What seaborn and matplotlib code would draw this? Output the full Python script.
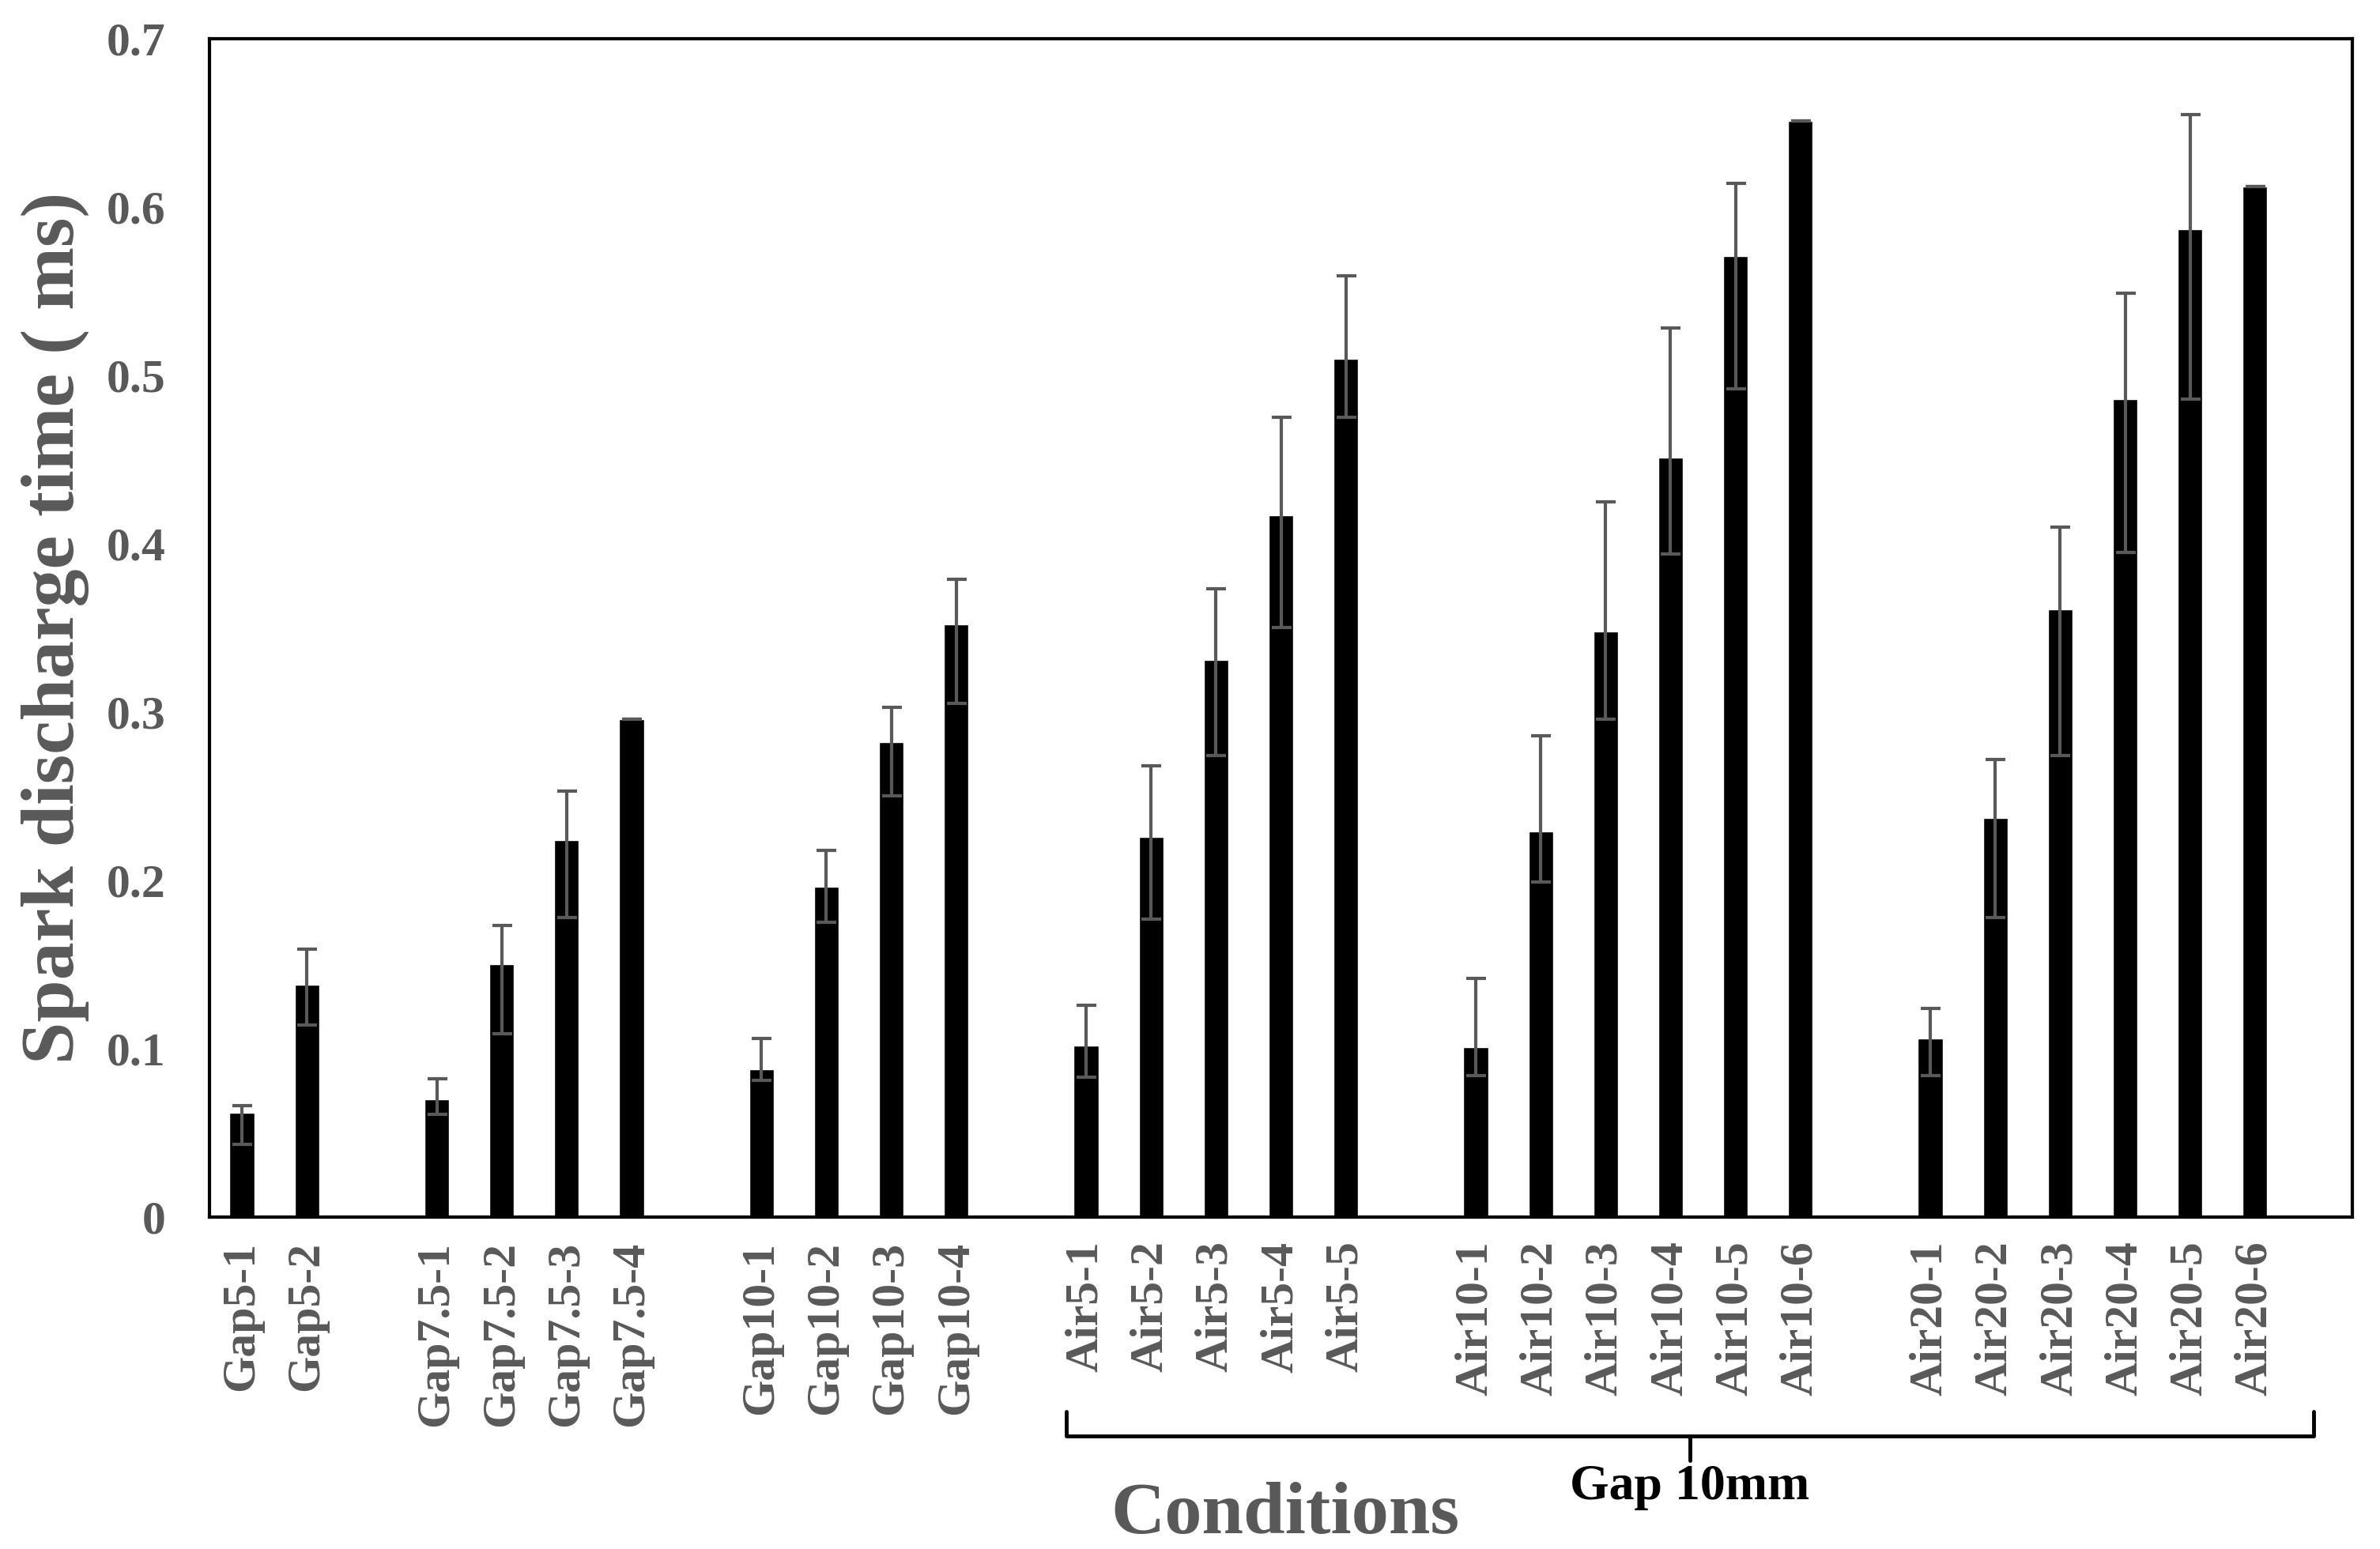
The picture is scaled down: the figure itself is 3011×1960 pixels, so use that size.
import numpy as np
import pandas as pd
import matplotlib
matplotlib.use("Agg")
import matplotlib.pyplot as plt
import matplotlib.transforms as mtransforms
import seaborn as sns

# bar labels, grouped by test series (a blank slot sits between groups)
labels = [
    "Gap5-1", "Gap5-2",
    "Gap7.5-1", "Gap7.5-2", "Gap7.5-3", "Gap7.5-4",
    "Gap10-1", "Gap10-2", "Gap10-3", "Gap10-4",
    "Air5-1", "Air5-2", "Air5-3", "Air5-4", "Air5-5",
    "Air10-1", "Air10-2", "Air10-3", "Air10-4", "Air10-5", "Air10-6",
    "Air20-1", "Air20-2", "Air20-3", "Air20-4", "Air20-5", "Air20-6",
]
groups = [
    "Gap5", "Gap5",
    "Gap7.5", "Gap7.5", "Gap7.5", "Gap7.5",
    "Gap10", "Gap10", "Gap10", "Gap10",
    "Air5", "Air5", "Air5", "Air5", "Air5",
    "Air10", "Air10", "Air10", "Air10", "Air10", "Air10",
    "Air20", "Air20", "Air20", "Air20", "Air20", "Air20",
]

# mean spark discharge time (ms)
mean_ms = [
    0.062, 0.138,
    0.070, 0.150, 0.224, 0.296,
    0.088, 0.196, 0.282, 0.352,
    0.102, 0.226, 0.331, 0.417, 0.510,
    0.101, 0.229, 0.348, 0.451, 0.571, 0.651,
    0.106, 0.237, 0.361, 0.486, 0.587, 0.612,
]
# upper / lower end of the error bars (ms)
upper_ms = [
    0.066, 0.159,
    0.082, 0.173, 0.253, 0.296,
    0.106, 0.218, 0.303, 0.379,
    0.126, 0.268, 0.373, 0.475, 0.559,
    0.142, 0.286, 0.425, 0.528, 0.614, 0.651,
    0.124, 0.272, 0.410, 0.549, 0.655, 0.612,
]
lower_ms = [
    0.043, 0.114,
    0.061, 0.109, 0.178, 0.296,
    0.081, 0.175, 0.250, 0.305,
    0.083, 0.177, 0.274, 0.350, 0.475,
    0.084, 0.199, 0.296, 0.394, 0.492, 0.651,
    0.084, 0.178, 0.274, 0.395, 0.486, 0.612,
]

yticks = [0, 0.1, 0.2, 0.3, 0.4, 0.5, 0.6, 0.7]
ytick_labels = ["0", "0.1", "0.2", "0.3", "0.4", "0.5", "0.6", "0.7"]

GRAY = "#595959"

# slot positions: skip one slot each time the group changes
pos = []
slot = 0
for i, g in enumerate(groups):
    if i > 0 and g != groups[i - 1]:
        slot += 1
    pos.append(slot)
    slot += 1

df = pd.DataFrame({"pos": pos, "label": labels, "mean": mean_ms,
                   "upper": upper_ms, "lower": lower_ms})

sns.set_theme(style="white")
plt.rcParams["font.family"] = ["Liberation Serif", "DejaVu Serif"]

fig = plt.figure(figsize=(30.11, 19.6), dpi=100)
ax = fig.add_axes([0.088, 0.2143, 0.9004, 0.7607])

sns.barplot(data=df, x="pos", y="mean", native_scale=True, color="black",
            saturation=1, width=0.38, errorbar=None, ax=ax)

yerr = np.vstack([df["mean"] - df["lower"], df["upper"] - df["mean"]])
ax.errorbar(df["pos"], df["mean"], yerr=yerr, fmt="none", ecolor=GRAY,
            elinewidth=3, capsize=9, capthick=3, zorder=3)

ax.set_xlim(-0.5, slot - 0.5 + 1)
ax.set_ylim(0, 0.7)
ax.set_yticks(yticks)
ax.set_yticklabels(ytick_labels)
ax.set_xticks(df["pos"])
ax.set_xticklabels(df["label"], rotation=90)
ax.tick_params(axis="both", length=0, labelsize=43, labelcolor=GRAY)
ax.tick_params(axis="y", pad=40)
ax.tick_params(axis="x", pad=22)
for lab in ax.get_xticklabels() + ax.get_yticklabels():
    lab.set_fontweight("bold")

for sp in ax.spines.values():
    sp.set_visible(True)
    sp.set_color("black")
    sp.set_linewidth(3)

ax.set_ylabel("Spark discharge time ( ms)", fontsize=69, fontweight="bold", color=GRAY)
ax.yaxis.set_label_coords(-0.056, 0.5)
ax.set_xlabel("Conditions", fontsize=68, fontweight="bold", color=GRAY)
ax.xaxis.set_label_coords(0.502, -0.225)

# bracket under the Air series (all at 10 mm gap)
air_pos = df.loc[df["label"].str.startswith("Air"), "pos"]
x0 = air_pos.min() - 0.3
x1 = air_pos.max() + 0.9
xm = (x0 + x1) / 2
trans = mtransforms.blended_transform_factory(ax.transData, fig.transFigure)
ax.plot([x0, x0, x1, x1], [0.089, 0.073, 0.073, 0.089], color="black",
        lw=3.5, transform=trans, clip_on=False, solid_joinstyle="round")
ax.plot([xm, xm], [0.073, 0.057], color="black", lw=3.5, transform=trans,
        clip_on=False)
ax.text(xm, 0.040, "Gap 10mm", transform=trans, ha="center", va="center",
        fontsize=46, fontweight="bold", color="black")

fig.savefig("out.png", dpi=100)
